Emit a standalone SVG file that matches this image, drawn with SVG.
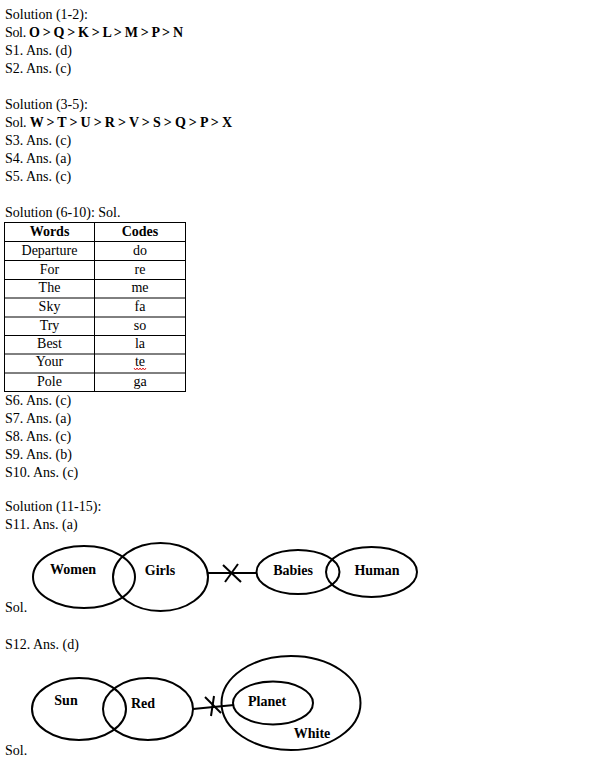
<svg xmlns="http://www.w3.org/2000/svg" width="608" height="767" viewBox="0 0 608 767">
<style>
text{font-family:"Liberation Serif","Times New Roman",serif;font-size:14px;fill:#000}
.b{font-weight:bold}
.c{text-anchor:middle}
.tb line,.tb rect{stroke:#000;stroke-width:1;fill:none}
.e{fill:none;stroke:#000;stroke-width:2}
.ln{fill:none;stroke:#000;stroke-width:2}
</style>
<rect width="608" height="767" fill="#fff"/>
<g id="text-block">
<text x="5" y="19">Solution (1-2):</text>
<text x="5" y="37" textLength="178" lengthAdjust="spacing">Sol. <tspan class="b">O &gt; Q &gt; K &gt; L &gt; M &gt; P &gt; N</tspan></text>
<text x="5" y="55">S1. Ans. (d)</text>
<text x="5" y="73">S2. Ans. (c)</text>
<text x="5" y="109">Solution (3-5):</text>
<text x="5" y="127" textLength="227" lengthAdjust="spacing">Sol. <tspan class="b">W &gt; T &gt; U &gt; R &gt; V &gt; S &gt; Q &gt; P &gt; X</tspan></text>
<text x="5" y="145">S3. Ans. (c)</text>
<text x="5" y="163">S4. Ans. (a)</text>
<text x="5" y="181">S5. Ans. (c)</text>
<text x="5" y="217">Solution (6-10): Sol.</text>
</g>
<g id="table" class="tb">
<rect x="4.5" y="222.5" width="181" height="169"/>
<line x1="94.5" y1="222.5" x2="94.5" y2="391.5"/>
<line x1="4.5" y1="241.5" x2="185.5" y2="241.5"/>
<line x1="4.5" y1="260.5" x2="185.5" y2="260.5"/>
<line x1="4.5" y1="279.5" x2="185.5" y2="279.5"/>
<line x1="4.5" y1="298" x2="185.5" y2="298"/>
<line x1="4.5" y1="317" x2="185.5" y2="317"/>
<line x1="4.5" y1="335.5" x2="185.5" y2="335.5"/>
<line x1="4.5" y1="354" x2="185.5" y2="354"/>
<line x1="4.5" y1="373" x2="185.5" y2="373"/>
<text class="c b" x="49.5" y="236">Words</text>
<text class="c b" x="140" y="236">Codes</text>
<text class="c" x="49.5" y="255">Departure</text><text class="c" x="140" y="255">do</text>
<text class="c" x="49.5" y="274">For</text><text class="c" x="140" y="274">re</text>
<text class="c" x="49.5" y="292">The</text><text class="c" x="140" y="292">me</text>
<text class="c" x="49.5" y="311">Sky</text><text class="c" x="140" y="311">fa</text>
<text class="c" x="49.5" y="330">Try</text><text class="c" x="140" y="330">so</text>
<text class="c" x="49.5" y="348">Best</text><text class="c" x="140" y="348">la</text>
<text class="c" x="49.5" y="366">Your</text><text class="c" x="140" y="366">te</text>
<text class="c" x="49.5" y="386">Pole</text><text class="c" x="140" y="386">ga</text>
<path d="M134 368 l1.5 2 l1.5 -2 l1.5 2 l1.5 -2 l1.5 2 l1.5 -2 l1.5 2 l1.5 -2" fill="none" stroke="#e02020" stroke-width="1"/>
</g>
<g id="answers">
<text x="5" y="405">S6. Ans. (c)</text>
<text x="5" y="423">S7. Ans. (a)</text>
<text x="5" y="441">S8. Ans. (c)</text>
<text x="5" y="459">S9. Ans. (b)</text>
<text x="5" y="477">S10. Ans. (c)</text>
<text x="5" y="511">Solution (11-15):</text>
<text x="5" y="529">S11. Ans. (a)</text>
<text x="5" y="612">Sol.</text>
<text x="5" y="649">S12. Ans. (d)</text>
<text x="5" y="755">Sol.</text>
</g>
<g id="women"><ellipse class="e" cx="84" cy="577" rx="51" ry="31"/><text class="b c" x="73" y="574">Women</text></g>
<g id="girls"><ellipse class="e" cx="160.5" cy="577" rx="47.5" ry="34"/><text class="b c" x="160" y="575">Girls</text></g>
<g id="babies"><ellipse class="e" cx="298" cy="572" rx="41.5" ry="22"/><text class="b c" x="293" y="575">Babies</text></g>
<g id="human"><ellipse class="e" cx="371.5" cy="572" rx="45.5" ry="25"/><text class="b c" x="377" y="575">Human</text></g>
<g id="sun"><ellipse class="e" cx="79" cy="709" rx="47" ry="31"/><text class="b c" x="66" y="705">Sun</text></g>
<g id="red"><ellipse class="e" cx="148" cy="709" rx="45" ry="31"/><text class="b c" x="143" y="708">Red</text></g>
<g id="white"><ellipse class="e" cx="291" cy="703" rx="69.5" ry="47"/><text class="b c" x="312" y="738">White</text></g>
<g id="planet"><ellipse class="e" cx="273" cy="703" rx="40" ry="21.5"/><text class="b c" x="267" y="706">Planet</text></g>
<g id="connectors">
<line class="ln" x1="208" y1="573" x2="257" y2="573"/>
<line class="ln" x1="223" y1="565" x2="241" y2="582"/>
<line class="ln" x1="238" y1="564" x2="225" y2="582"/>
<line class="ln" x1="193" y1="709" x2="234" y2="705"/>
<line class="ln" x1="205" y1="697" x2="221" y2="713"/>
<line class="ln" x1="214" y1="696" x2="211" y2="716"/>
</g>
</svg>
